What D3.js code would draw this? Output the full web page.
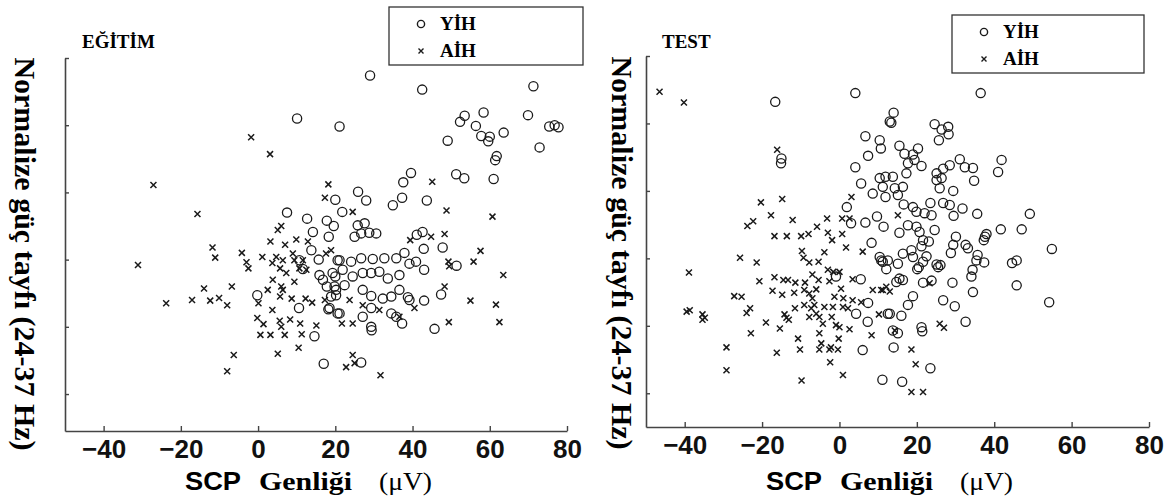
<!DOCTYPE html>
<html>
<head>
<meta charset="utf-8">
<script src="https://cdnjs.cloudflare.com/ajax/libs/d3/7.8.5/d3.min.js"></script>
<style>
  body { margin: 0; background: #fff; }
</style>
</head>
<body>
<div id="chart"></div>
<script>
// tick values (y ticks carry no labels in the figure)
var xTickValues = [-40, -20, 0, 20, 40, 60, 80];
var yTickValues = [1, 2, 3, 4, 5, 6];

// EĞİTİM panel - [SCP amplitude (uV), normalized power]
var egitimYih = [
  [10.1,5.10],[21.1,4.98],[7.5,3.70],[12.7,3.61],[17.8,3.58],[19.6,3.50],[14.2,3.41],[18.3,3.34],[20.0,3.89],[13.8,3.14],
  [15.7,3.00],[20.6,2.99],[10.7,2.99],[11.6,2.86],[15.9,2.77],[16.8,2.70],[17.8,2.60],[18.9,2.45],[20.0,2.75],[20.2,2.55],
  [18.2,2.26],[20.6,2.20],[-0.2,2.47],[10.6,2.28],[14.6,1.86],[17.0,1.45],[29.0,5.74],[42.5,5.53],[71.3,5.58],[53.5,5.14],
  [52.3,5.05],[58.4,5.19],[56.4,4.99],[57.8,4.84],[60.0,4.83],[59.6,4.76],[63.6,4.89],[69.9,5.15],[75.4,4.98],[76.8,5.00],
  [77.8,4.97],[72.9,4.67],[49.1,4.77],[61.8,4.54],[61.4,4.48],[51.3,4.27],[53.4,4.21],[61.0,4.20],[39.6,4.29],[37.6,4.15],
  [25.9,4.01],[28.0,3.88],[37.3,3.92],[34.9,3.81],[43.7,3.88],[21.8,3.71],[25.8,3.51],[27.6,3.54],[25.0,3.34],[26.7,3.39],
  [28.8,3.40],[30.6,3.39],[41.1,3.37],[42.6,3.41],[42.9,3.16],[47.8,3.18],[51.4,2.91],[21.1,2.99],[24.1,2.97],[26.7,3.02],
  [29.7,3.01],[32.7,3.02],[35.8,3.02],[37.9,3.10],[40.9,2.97],[43.0,2.85],[19.3,2.80],[21.9,2.85],[24.5,2.75],[27.1,2.80],
  [29.3,2.80],[31.4,2.82],[33.6,2.72],[36.6,2.77],[39.2,2.94],[19.8,2.60],[22.4,2.62],[20.2,2.47],[27.1,2.55],[29.3,2.46],
  [32.3,2.42],[34.5,2.45],[36.6,2.55],[38.8,2.44],[39.2,2.40],[43.0,2.39],[47.4,2.48],[18.5,2.28],[21.1,2.20],[27.1,2.15],
  [29.3,2.28],[34.5,2.20],[35.8,2.15],[37.3,2.05],[29.3,2.00],[29.4,1.95],[45.7,1.97],[26.7,1.47]
];
var egitimAih = [
  [-1.8,4.82],[3.1,4.57],[-27.1,4.11],[-15.7,3.68],[18.2,4.12],[17.3,3.92],[-31.1,2.92],[-11.8,3.18],[-11.1,3.03],[-4.2,3.10],
  [-3.0,2.96],[-2.5,2.87],[1.1,3.04],[3.2,3.27],[5.1,3.44],[6.0,3.50],[7.0,3.22],[9.9,3.30],[3.7,2.95],[4.7,3.04],
  [6.4,2.99],[5.7,2.87],[7.3,2.80],[9.0,3.09],[9.4,2.99],[11.6,2.99],[10.7,2.87],[12.5,2.85],[12.9,3.27],[17.6,3.09],
  [-14.0,2.57],[-6.8,2.60],[-23.8,2.35],[-17.1,2.40],[-12.4,2.39],[-10.1,2.43],[-8.0,2.32],[3.8,2.70],[2.5,2.55],[6.0,2.60],
  [6.4,2.55],[5.7,2.45],[9.4,2.67],[0.1,2.35],[3.7,2.25],[8.7,2.42],[12.3,2.42],[14.0,2.36],[-0.2,2.13],[1.4,2.04],
  [5.6,2.09],[6.0,2.00],[8.3,2.11],[10.9,2.05],[0.6,1.88],[3.2,1.88],[6.9,1.88],[11.3,1.89],[15.1,2.02],[10.5,1.69],
  [5.1,1.60],[-6.3,1.58],[-8.0,1.34],[17.3,2.40],[45.1,4.16],[48.8,3.73],[60.7,3.64],[24.5,3.71],[39.4,3.29],[44.8,3.34],
  [48.3,3.38],[57.6,3.13],[55.8,2.97],[49.3,2.97],[49.5,2.90],[63.5,2.77],[48.3,2.60],[55.0,2.39],[61.6,2.33],[62.5,2.07],
  [49.4,2.07],[21.7,2.05],[24.5,2.05],[23.7,2.40],[27.1,2.32],[31.4,2.25],[40.5,2.28],[36.6,2.15],[24.5,1.58],[22.8,1.40],
  [25.0,1.46],[31.7,1.28],[18.9,3.14]
];

// TEST panel
var testYih = [
  [-16.6,5.32],[4.1,5.45],[-15.0,4.48],[-15.1,4.41],[13.0,5.03],[6.7,4.81],[10.4,4.75],[10.7,4.63],[7.4,4.52],[4.1,4.35],
  [5.6,4.11],[8.6,3.96],[10.4,4.19],[11.2,4.06],[11.9,3.91],[11.9,4.21],[1.9,3.76],[3.0,3.52],[6.7,3.53],[9.7,3.62],
  [11.4,3.47],[8.3,3.23],[10.8,2.97],[11.2,2.95],[12.1,2.84],[-0.9,2.73],[5.5,2.69],[7.4,2.34],[4.3,2.18],[7.3,2.06],
  [12.5,2.18],[6.0,1.64],[11.1,1.20],[36.5,5.45],[14.0,5.16],[13.4,5.01],[24.6,4.99],[26.4,4.91],[28.1,4.95],[28.2,4.84],
  [25.7,4.75],[15.5,4.67],[16.8,4.55],[19.0,4.54],[20.3,4.63],[17.7,4.41],[19.4,4.46],[21.2,4.37],[17.3,4.26],[13.8,4.21],
  [14.3,4.04],[16.4,4.06],[15.1,3.94],[25.1,4.26],[26.8,4.33],[28.5,4.38],[31.1,4.47],[32.4,4.35],[34.5,4.34],[26.4,4.19],
  [25.1,4.16],[25.9,4.04],[29.4,4.00],[34.8,4.15],[41.9,4.46],[41.0,4.28],[16.6,3.80],[19.0,3.76],[19.9,3.69],[22.0,3.67],
  [23.8,3.64],[23.5,3.82],[26.8,3.82],[28.5,3.79],[29.5,3.63],[31.8,3.74],[35.6,3.66],[49.2,3.66],[15.5,3.38],[17.7,3.49],
  [19.9,3.47],[20.7,3.39],[24.6,3.42],[23.1,3.25],[21.2,3.18],[21.6,3.27],[30.1,3.32],[29.4,3.20],[28.8,3.08],[32.6,3.20],
  [33.2,3.15],[35.7,3.05],[35.4,2.97],[37.4,2.94],[37.6,3.32],[38.0,3.36],[37.3,3.27],[41.7,3.43],[47.1,3.43],[54.9,3.14],
  [44.6,2.93],[45.8,2.97],[45.8,2.60],[54.2,2.35],[10.4,3.02],[12.5,2.97],[15.1,2.92],[16.4,3.07],[18.6,3.12],[19.0,3.02],
  [21.6,2.95],[22.5,3.03],[20.1,2.84],[20.5,2.87],[25.1,2.91],[26.1,2.90],[25.5,2.87],[34.4,2.83],[34.1,2.73],[34.5,2.50],
  [15.5,2.70],[16.4,2.68],[14.7,2.65],[21.6,2.64],[23.8,2.67],[29.2,2.64],[19.0,2.44],[17.7,2.31],[13.0,2.18],[16.0,2.15],
  [26.8,2.38],[29.8,2.29],[32.6,2.06],[15.1,1.89],[13.8,1.93],[21.2,1.98],[21.4,1.92],[14.0,1.68],[23.5,1.37],[16.2,1.17]
];
var testAih = [
  [-46.5,5.47],[-40.2,5.31],[-16.1,4.61],[-20.3,3.83],[-14.8,3.88],[-17.7,3.64],[-23.8,3.48],[-22.3,3.55],[-12.1,3.57],[-16.8,3.33],
  [-13.6,3.33],[-9.9,3.33],[-8.0,3.36],[-5.8,3.47],[-3.2,3.59],[0.7,3.59],[2.6,3.59],[-3.0,3.38],[-1.9,3.27],[0.7,3.36],
  [3.1,3.91],[1.7,3.16],[-9.7,3.11],[-9.3,3.01],[-7.8,2.94],[-5.4,2.95],[-3.9,3.09],[6.0,3.10],[-25.7,3.01],[-21.4,2.94],
  [-38.9,2.79],[-20.7,2.66],[-16.8,2.72],[-14.5,2.68],[-13.3,2.68],[-11.4,2.64],[-8.9,2.64],[-7.0,2.76],[-3.0,2.83],[-1.6,2.80],
  [0.0,2.80],[-5.4,2.68],[-2.6,2.66],[-17.3,2.52],[-14.8,2.46],[-11.7,2.49],[-9.1,2.53],[-6.0,2.54],[0.4,2.55],[3.4,2.69],
  [-1.3,2.43],[1.0,2.41],[3.4,2.38],[5.6,2.35],[0.9,2.28],[2.2,2.26],[-1.7,2.28],[8.6,2.53],[10.8,2.53],[-7.8,2.48],
  [-7.0,2.41],[-6.5,2.31],[-9.1,2.31],[-7.3,2.26],[-6.0,2.18],[-5.2,2.13],[-3.9,2.28],[-4.3,2.03],[-7.8,2.13],[-27.2,2.44],
  [-25.3,2.43],[-24.0,2.19],[-23.1,2.26],[-39.5,2.21],[-38.7,2.23],[-35.4,2.17],[-34.8,2.12],[-35.4,2.09],[-19.0,2.05],[-14.2,2.17],
  [-13.7,2.12],[-13.1,2.09],[-11.5,2.26],[-2.0,2.13],[-0.9,2.01],[0.0,1.98],[2.6,1.95],[-22.9,1.89],[-15.4,1.96],[-10.7,1.81],
  [-5.2,1.89],[-4.7,1.74],[-5.2,1.65],[-2.6,1.65],[-2.2,1.68],[-0.4,1.65],[-0.2,1.81],[-10.2,1.65],[-16.2,1.60],[-29.2,1.68],
  [-29.2,1.34],[-2.4,1.46],[-9.8,1.19],[0.9,1.27],[10.2,2.17],[8.3,1.86],[15.1,3.64],[11.2,2.53],[13.0,2.51],[12.1,2.58],
  [23.3,2.63],[25.9,2.03],[27.0,1.97],[14.3,1.93],[18.6,1.65],[19.7,1.43],[18.6,1.02],[21.6,1.02]
];

var legendLabels = ["YİH", "AİH"];
var yLabel = "Normalize güç tayfı (24-37 Hz)";

var serif = '"Liberation Serif","Times New Roman",Times,serif';
var sans = '"Liberation Sans",Arial,Helvetica,sans-serif';
var ink = "#1a1a1a";

var svg = d3.select("#chart").append("svg")
  .attr("width", 1175)
  .attr("height", 502);

var crossPath = "M-3,-3L3,3M-3,3L3,-3";

function drawPanel(p) {
  var x = d3.scaleLinear().domain([-50, 80]).range([p.left, p.right]);
  var y = d3.scaleLinear().domain([p.yMin, 6]).range([p.bottom, p.top]);

  var g = svg.append("g");

  // axes, ticks pointing inward
  var xAxis = d3.axisBottom(x)
    .tickValues(xTickValues)
    .tickSizeInner(-5)
    .tickSizeOuter(0)
    .tickPadding(9);
  var gx = g.append("g")
    .attr("transform", "translate(0," + p.bottom + ")")
    .style("color", "#444")
    .call(xAxis);
  gx.select(".domain").attr("stroke-width", 1.6);
  gx.selectAll(".tick line").attr("stroke-width", 1.4);
  gx.selectAll("text")
    .attr("fill", "#111")
    .style("font-family", sans)
    .style("font-weight", "bold")
    .style("font-size", "26px");

  var yAxis = d3.axisLeft(y)
    .tickValues(yTickValues)
    .tickSizeInner(-4)
    .tickSizeOuter(0)
    .tickFormat("");
  var gy = g.append("g")
    .attr("transform", "translate(" + p.left + ",0)")
    .style("color", "#444")
    .call(yAxis);
  gy.select(".domain").attr("stroke-width", 1.6);
  gy.selectAll(".tick line").attr("stroke-width", 1.4);

  // AİH crosses
  g.append("g").selectAll("path")
    .data(p.aih)
    .enter().append("path")
    .attr("d", crossPath)
    .attr("transform", function(d) { return "translate(" + x(d[0]) + "," + y(d[1]) + ")"; })
    .attr("stroke", ink)
    .attr("stroke-width", 1.5)
    .attr("fill", "none");

  // YİH circles
  g.append("g").selectAll("circle")
    .data(p.yih)
    .enter().append("circle")
    .attr("cx", function(d) { return x(d[0]); })
    .attr("cy", function(d) { return y(d[1]); })
    .attr("r", 4.6)
    .attr("fill", "none")
    .attr("stroke", ink)
    .attr("stroke-width", 1.3);

  // panel title
  g.append("text")
    .attr("x", p.titleX).attr("y", 48)
    .style("font-family", serif)
    .style("font-weight", "bold")
    .style("font-size", "19px")
    .attr("fill", "#000")
    .text(p.title);

  // legend
  var lg = g.append("g").attr("transform", "translate(" + p.legX + "," + p.legY + ")");
  lg.append("rect")
    .attr("width", p.legW).attr("height", 58)
    .attr("fill", "#fff")
    .attr("stroke", "#333")
    .attr("stroke-width", 1.3);
  lg.append("circle")
    .attr("cx", 32).attr("cy", 17).attr("r", 3.6)
    .attr("fill", "none").attr("stroke", ink).attr("stroke-width", 1.4);
  lg.append("path")
    .attr("d", "M-2.5,-2.5L2.5,2.5M-2.5,2.5L2.5,-2.5")
    .attr("transform", "translate(32,44)")
    .attr("stroke", ink).attr("stroke-width", 1.4);
  lg.selectAll("text.leg")
    .data(legendLabels)
    .enter().append("text")
    .attr("class", "leg")
    .attr("x", 51)
    .attr("y", function(d, i) { return 23 + i * 27; })
    .style("font-family", serif)
    .style("font-weight", "bold")
    .style("font-size", "19px")
    .attr("fill", "#000")
    .text(function(d) { return d; });

  // y axis label, reads top to bottom
  g.append("text")
    .attr("transform", "translate(" + p.yLabX + "," + p.yLabY + ") rotate(90)")
    .attr("text-anchor", "middle")
    .style("font-family", serif)
    .style("font-weight", "bold")
    .style("font-size", "30px")
    .attr("fill", "#000")
    .text(yLabel);

  // x axis label, mixed fonts as in the figure
  var parts = [
    { t: "SCP", dx: 0, w: 56, font: sans, weight: "bold" },
    { t: "Genliği", dx: 74, w: 93, font: serif, weight: "bold" },
    { t: "(μV)", dx: 194, w: 53, font: serif, weight: "normal" }
  ];
  g.selectAll("text.xlab")
    .data(parts)
    .enter().append("text")
    .attr("class", "xlab")
    .attr("x", function(d) { return p.xLabX + d.dx; })
    .attr("y", 490)
    .attr("textLength", function(d) { return d.w; })
    .attr("lengthAdjust", "spacingAndGlyphs")
    .style("font-family", function(d) { return d.font; })
    .style("font-weight", function(d) { return d.weight; })
    .style("font-size", "25px")
    .attr("fill", "#000")
    .text(function(d) { return d.t; });
}

drawPanel({
  left: 65, right: 567, top: 58, bottom: 431, yMin: 0.45,
  yih: egitimYih, aih: egitimAih,
  title: "EĞİTİM", titleX: 82,
  legX: 389, legY: 7, legW: 194,
  yLabX: 15, yLabY: 254,
  xLabX: 185
});

drawPanel({
  left: 646, right: 1149, top: 56, bottom: 427, yMin: 0.5,
  yih: testYih, aih: testAih,
  title: "TEST", titleX: 662,
  legX: 952, legY: 15, legW: 192,
  yLabX: 612, yLabY: 253,
  xLabX: 766
});
</script>
</body>
</html>
